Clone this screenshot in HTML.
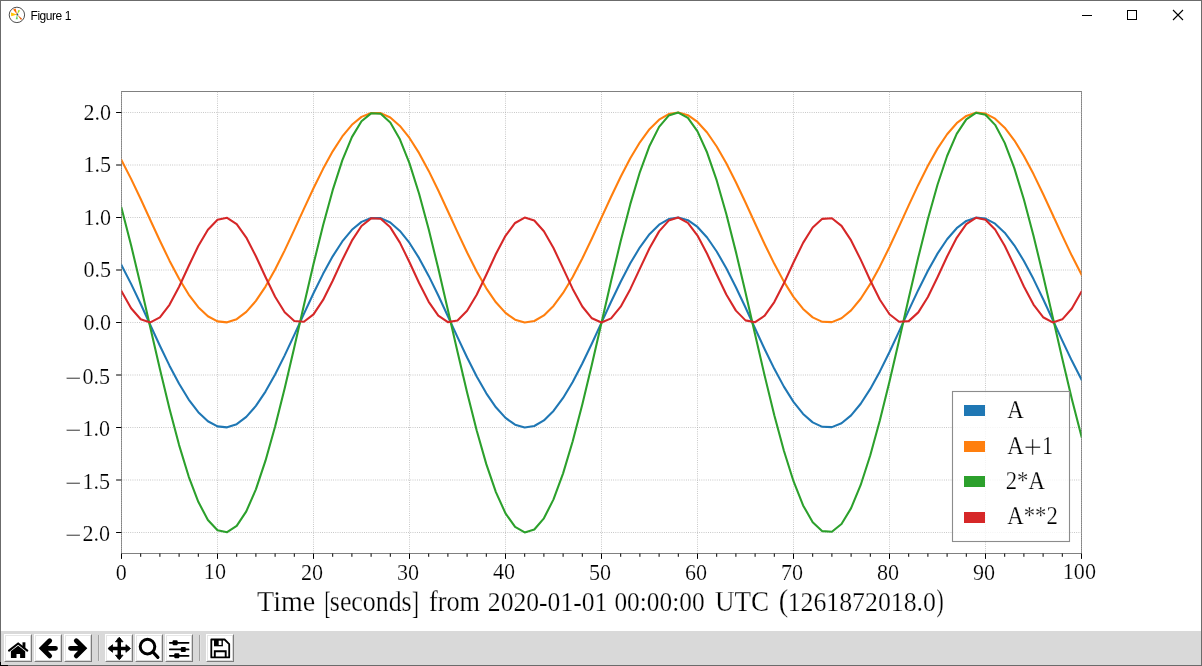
<!DOCTYPE html>
<html><head><meta charset="utf-8"><title>Figure 1</title>
<style>
html,body{margin:0;padding:0;background:#fff;overflow:hidden}
#w{position:absolute;left:0;top:0;width:1202px;height:666px;background:#fff;overflow:hidden}
#bd{position:absolute;left:0;top:0;width:1200px;height:664px;border:1px solid #6b6b6b;pointer-events:none;z-index:9}
#tt{position:absolute;left:30.5px;top:9px;font:12px/15px "Liberation Sans",sans-serif;color:#000;letter-spacing:-0.45px;white-space:nowrap}
#tb{position:absolute;left:1px;top:631px;width:1200px;height:34px;background:#d9d9d9}
.b{position:absolute;top:634px;width:28px;height:28px;background:#fff}
.b i{position:absolute;display:block;box-sizing:border-box}
.b .r1{left:0;top:0;width:28px;height:28px;border:1px solid;border-color:#fff #7c7c7c #7c7c7c #fff}
.b .r2{left:1px;top:1px;width:26px;height:26px;border:1px solid;border-color:#e6e6e6 #d8d8d8 #d8d8d8 #e6e6e6}
.sp{position:absolute;top:635px;width:1px;height:26px;background:#a3a3a3;border-right:1px solid #e2e2e2}
</style></head><body><div id="w">
<div id="tt">Figure 1</div>
<svg width="20" height="20" viewBox="0 0 20 20" style="position:absolute;left:7px;top:5px">
<circle cx="9.9" cy="9.9" r="7.7" fill="#fff" stroke="#3a3a3a" stroke-width="0.9"/>
<path d="M10.1 9.6L6.1 4.6L8.6 3.5Z" fill="#ff6a00"/>
<path d="M10.1 9.6L4 7.6L4.2 11.2Z" fill="#ffc400"/>
<path d="M10.1 9.6L11.3 5L13.2 5.5Z" fill="#a6d82a"/>
<path d="M10.1 9.6L8.7 14.2L10.8 14.3Z" fill="#5fd35f"/>
<path d="M10.1 9.6L14 14.9L15.1 13.8Z" fill="#e8600a"/>
<circle cx="10.4" cy="9.5" r="0.9" fill="#2b4a7a"/>
</svg>
<svg width="120" height="30" viewBox="1080 0 120 30" style="position:absolute;left:1080px;top:0">
<path d="M1082 15.5h10" stroke="#000" stroke-width="1" fill="none"/>
<rect x="1127.5" y="10.5" width="9" height="9" fill="none" stroke="#000" stroke-width="1"/>
<path d="M1173 10l10 10M1183 10l-10 10" stroke="#000" stroke-width="1.1" fill="none"/>
</svg>
<svg width="1200" height="600" viewBox="1 31 1200 600" style="position:absolute;left:1px;top:31px">
<defs><clipPath id="ax"><rect x="121.5" y="91.5" width="960" height="462"/></clipPath></defs>
<rect x="121.5" y="91.5" width="960" height="462" fill="none" stroke="#808080" stroke-width="1"/>
<g stroke="#b0b0b0" stroke-width="0.83" stroke-dasharray="0.83 1.375" fill="none"><line x1="121.50" y1="553.5" x2="121.50" y2="91.5"/><line x1="217.50" y1="553.5" x2="217.50" y2="91.5"/><line x1="313.50" y1="553.5" x2="313.50" y2="91.5"/><line x1="409.50" y1="553.5" x2="409.50" y2="91.5"/><line x1="505.50" y1="553.5" x2="505.50" y2="91.5"/><line x1="601.50" y1="553.5" x2="601.50" y2="91.5"/><line x1="697.50" y1="553.5" x2="697.50" y2="91.5"/><line x1="793.50" y1="553.5" x2="793.50" y2="91.5"/><line x1="889.50" y1="553.5" x2="889.50" y2="91.5"/><line x1="985.50" y1="553.5" x2="985.50" y2="91.5"/><line x1="1081.50" y1="553.5" x2="1081.50" y2="91.5"/><line x1="121.5" y1="532.50" x2="1081.5" y2="532.50"/><line x1="121.5" y1="480.00" x2="1081.5" y2="480.00"/><line x1="121.5" y1="427.50" x2="1081.5" y2="427.50"/><line x1="121.5" y1="375.00" x2="1081.5" y2="375.00"/><line x1="121.5" y1="322.50" x2="1081.5" y2="322.50"/><line x1="121.5" y1="270.00" x2="1081.5" y2="270.00"/><line x1="121.5" y1="217.50" x2="1081.5" y2="217.50"/><line x1="121.5" y1="165.00" x2="1081.5" y2="165.00"/><line x1="121.5" y1="112.50" x2="1081.5" y2="112.50"/></g>
<g clip-path="url(#ax)" fill="none" stroke-width="2.08" stroke-linejoin="round" stroke-linecap="square">
<polyline stroke="#1f77b4" points="121.50,265.26 131.10,283.89 140.70,304.05 150.30,324.96 159.90,345.76 169.50,365.64 179.10,383.80 188.70,399.51 198.30,412.16 207.90,421.23 217.50,426.36 227.10,427.35 236.70,424.17 246.30,416.93 255.90,405.92 265.50,391.59 275.10,374.51 284.70,355.35 294.30,334.88 303.90,313.92 313.50,293.30 323.10,273.84 332.70,256.33 342.30,241.45 351.90,229.80 361.50,221.85 371.10,217.92 380.70,218.15 390.30,222.54 399.90,230.91 409.50,242.94 419.10,258.14 428.70,275.91 438.30,295.53 447.90,316.23 457.50,337.18 467.10,357.54 476.70,376.50 486.30,393.32 495.90,407.31 505.50,417.92 515.10,424.72 524.70,427.45 534.30,426.00 543.90,420.42 553.50,410.93 563.10,397.92 572.70,381.91 582.30,363.52 591.90,343.50 601.50,322.64 611.10,301.78 620.70,281.74 630.30,263.33 639.90,247.28 649.50,234.22 659.10,224.69 668.70,219.05 678.30,217.54 687.90,220.21 697.50,226.96 707.10,237.52 716.70,251.47 726.30,268.25 735.90,287.19 745.50,307.54 755.10,328.49 764.70,349.19 774.30,368.84 783.90,386.63 793.50,401.87 803.10,413.94 812.70,422.37 822.30,426.82 831.90,427.11 841.50,423.23 851.10,415.33 860.70,403.73 870.30,388.89 879.90,371.41 889.50,351.98 899.10,331.37 908.70,310.41 918.30,289.92 927.90,270.74 937.50,253.62 947.10,239.25 956.70,228.20 966.30,220.90 975.90,217.66 985.50,218.60 995.10,223.67 1004.70,232.69 1014.30,245.29 1023.90,260.97 1033.50,279.10 1043.10,298.96 1052.70,319.75 1062.30,340.66 1071.90,360.85 1081.50,379.50"/>
<polyline stroke="#ff7f0e" points="121.50,160.26 131.10,178.89 140.70,199.05 150.30,219.96 159.90,240.76 169.50,260.64 179.10,278.80 188.70,294.51 198.30,307.16 207.90,316.23 217.50,321.36 227.10,322.35 236.70,319.17 246.30,311.93 255.90,300.92 265.50,286.59 275.10,269.51 284.70,250.35 294.30,229.88 303.90,208.92 313.50,188.30 323.10,168.84 332.70,151.33 342.30,136.45 351.90,124.80 361.50,116.85 371.10,112.92 380.70,113.15 390.30,117.54 399.90,125.91 409.50,137.94 419.10,153.14 428.70,170.91 438.30,190.53 447.90,211.23 457.50,232.18 467.10,252.54 476.70,271.50 486.30,288.32 495.90,302.31 505.50,312.92 515.10,319.72 524.70,322.45 534.30,321.00 543.90,315.42 553.50,305.93 563.10,292.92 572.70,276.91 582.30,258.52 591.90,238.50 601.50,217.64 611.10,196.78 620.70,176.74 630.30,158.33 639.90,142.28 649.50,129.22 659.10,119.69 668.70,114.05 678.30,112.54 687.90,115.21 697.50,121.96 707.10,132.52 716.70,146.47 726.30,163.25 735.90,182.19 745.50,202.54 755.10,223.49 764.70,244.19 774.30,263.84 783.90,281.63 793.50,296.87 803.10,308.94 812.70,317.37 822.30,321.82 831.90,322.11 841.50,318.23 851.10,310.33 860.70,298.73 870.30,283.89 879.90,266.41 889.50,246.98 899.10,226.37 908.70,205.41 918.30,184.92 927.90,165.74 937.50,148.62 947.10,134.25 956.70,123.20 966.30,115.90 975.90,112.66 985.50,113.60 995.10,118.67 1004.70,127.69 1014.30,140.29 1023.90,155.97 1033.50,174.10 1043.10,193.96 1052.70,214.75 1062.30,235.66 1071.90,255.85 1081.50,274.50"/>
<polyline stroke="#2ca02c" points="121.50,208.01 131.10,245.27 140.70,285.61 150.30,327.42 159.90,369.03 169.50,408.78 179.10,445.10 188.70,476.53 198.30,501.82 207.90,519.96 217.50,530.22 227.10,532.21 236.70,525.84 246.30,511.35 255.90,489.35 265.50,460.68 275.10,426.51 284.70,388.20 294.30,347.26 303.90,305.34 313.50,264.10 323.10,225.19 332.70,190.16 342.30,160.40 351.90,137.11 361.50,121.21 371.10,113.33 380.70,113.79 390.30,122.58 399.90,139.33 409.50,163.38 419.10,193.78 428.70,229.31 438.30,268.56 447.90,309.95 457.50,351.85 467.10,392.58 476.70,430.51 486.30,464.13 495.90,492.11 505.50,513.33 515.10,526.94 524.70,532.40 534.30,529.49 543.90,518.33 553.50,499.36 563.10,473.35 572.70,441.31 582.30,404.54 591.90,364.50 601.50,322.79 611.10,281.06 620.70,240.99 630.30,204.16 639.90,172.06 649.50,145.95 659.10,126.88 668.70,115.60 678.30,112.58 687.90,117.93 697.50,131.43 707.10,152.55 716.70,180.44 726.30,214.00 735.90,251.88 745.50,292.58 755.10,334.47 764.70,375.89 774.30,415.17 783.90,450.76 793.50,481.24 803.10,505.39 812.70,522.25 822.30,531.14 831.90,531.72 841.50,523.96 851.10,508.16 860.70,484.96 870.30,455.29 879.90,420.32 889.50,381.45 899.10,340.24 908.70,298.31 918.30,257.35 927.90,218.99 937.50,184.75 947.10,156.01 956.70,133.90 966.30,119.31 975.90,112.82 985.50,114.69 995.10,124.85 1004.70,142.88 1014.30,168.08 1023.90,199.43 1033.50,235.69 1043.10,275.41 1052.70,317.01 1062.30,358.83 1071.90,399.19 1081.50,436.50"/>
<polyline stroke="#d62728" points="121.50,291.29 131.10,308.30 140.70,319.26 150.30,322.44 159.90,317.35 169.50,304.77 179.10,286.71 188.70,266.01 198.30,245.94 207.90,229.67 217.50,219.76 227.10,217.79 236.70,224.06 246.30,237.58 255.90,256.22 265.50,277.04 275.10,296.74 284.70,312.22 294.30,321.04 303.90,321.80 313.50,314.38 323.10,299.95 332.70,280.80 342.30,259.94 351.90,240.67 361.50,226.03 371.10,218.33 380.70,218.79 390.30,227.33 399.90,242.61 409.50,262.22 419.10,283.05 428.70,301.82 438.30,315.57 447.90,322.13 457.50,320.45 467.10,310.81 476.70,294.72 486.30,274.74 495.90,254.00 505.50,235.79 515.10,222.98 524.70,217.60 534.30,220.49 543.90,231.19 553.50,248.02 563.10,268.32 572.70,288.89 582.30,306.47 591.90,318.30 601.50,322.50 611.10,318.41 620.70,306.68 630.30,289.16 639.90,268.61 649.50,248.28 659.10,231.38 668.70,220.58 678.30,217.58 687.90,222.86 697.50,235.57 707.10,253.73 716.70,274.45 726.30,294.47 735.90,310.63 745.50,320.37 755.10,322.16 764.70,315.71 774.30,302.05 783.90,283.33 793.50,262.50 803.10,242.86 812.70,227.50 822.30,218.85 831.90,218.28 841.50,225.87 851.10,240.43 860.70,259.66 870.30,280.52 879.90,299.72 889.50,314.22 899.10,321.75 908.70,321.11 918.30,312.39 927.90,296.99 937.50,277.32 947.10,256.50 956.70,237.81 966.30,224.20 975.90,217.82 985.50,219.68 995.10,229.49 1004.70,245.69 1014.30,265.73 1023.90,286.44 1033.50,304.56 1043.10,317.22 1052.70,322.43 1062.30,319.36 1071.90,308.50 1081.50,291.56"/>
</g>
<path d="M121.50 553.5v5.4M217.50 553.5v5.4M313.50 553.5v5.4M409.50 553.5v5.4M505.50 553.5v5.4M601.50 553.5v5.4M697.50 553.5v5.4M793.50 553.5v5.4M889.50 553.5v5.4M985.50 553.5v5.4M1081.50 553.5v5.4M140.70 553.5v3.3M159.90 553.5v3.3M179.10 553.5v3.3M198.30 553.5v3.3M236.70 553.5v3.3M255.90 553.5v3.3M275.10 553.5v3.3M294.30 553.5v3.3M332.70 553.5v3.3M351.90 553.5v3.3M371.10 553.5v3.3M390.30 553.5v3.3M428.70 553.5v3.3M447.90 553.5v3.3M467.10 553.5v3.3M486.30 553.5v3.3M524.70 553.5v3.3M543.90 553.5v3.3M563.10 553.5v3.3M582.30 553.5v3.3M620.70 553.5v3.3M639.90 553.5v3.3M659.10 553.5v3.3M678.30 553.5v3.3M716.70 553.5v3.3M735.90 553.5v3.3M755.10 553.5v3.3M774.30 553.5v3.3M812.70 553.5v3.3M831.90 553.5v3.3M851.10 553.5v3.3M870.30 553.5v3.3M908.70 553.5v3.3M927.90 553.5v3.3M947.10 553.5v3.3M966.30 553.5v3.3M1004.70 553.5v3.3M1023.90 553.5v3.3M1043.10 553.5v3.3M1062.30 553.5v3.3M121.5 532.50h-5.4M121.5 480.00h-5.4M121.5 427.50h-5.4M121.5 375.00h-5.4M121.5 322.50h-5.4M121.5 270.00h-5.4M121.5 217.50h-5.4M121.5 165.00h-5.4M121.5 112.50h-5.4" stroke="#000" stroke-width="1" fill="none"/>
<g font-family="'Liberation Serif', serif" font-size="24px" fill="#000" stroke="#fff" stroke-width="0.2" paint-order="fill stroke">
<text x="115.78" y="580.0" textLength="11.04" lengthAdjust="spacingAndGlyphs">0</text>
<text x="203.86" y="579.0" textLength="22.08" lengthAdjust="spacingAndGlyphs">10</text>
<text x="300.96" y="580.0" textLength="22.08" lengthAdjust="spacingAndGlyphs">20</text>
<text x="396.96" y="580.0" textLength="22.08" lengthAdjust="spacingAndGlyphs">30</text>
<text x="492.96" y="579.0" textLength="22.08" lengthAdjust="spacingAndGlyphs">40</text>
<text x="588.96" y="580.0" textLength="22.08" lengthAdjust="spacingAndGlyphs">50</text>
<text x="684.96" y="580.0" textLength="22.08" lengthAdjust="spacingAndGlyphs">60</text>
<text x="780.96" y="580.0" textLength="22.08" lengthAdjust="spacingAndGlyphs">70</text>
<text x="876.96" y="580.0" textLength="22.08" lengthAdjust="spacingAndGlyphs">80</text>
<text x="972.96" y="580.0" textLength="22.08" lengthAdjust="spacingAndGlyphs">90</text>
<text x="1062.84" y="579.0" textLength="33.12" lengthAdjust="spacingAndGlyphs">100</text>
<text x="82.40" y="541.00" textLength="27.60" lengthAdjust="spacingAndGlyphs">2.0</text>
<text x="65.36" y="543.40" textLength="16.36" lengthAdjust="spacingAndGlyphs">−</text>
<text x="82.40" y="488.50" textLength="27.60" lengthAdjust="spacingAndGlyphs">1.5</text>
<text x="65.36" y="490.90" textLength="16.36" lengthAdjust="spacingAndGlyphs">−</text>
<text x="82.40" y="436.00" textLength="27.60" lengthAdjust="spacingAndGlyphs">1.0</text>
<text x="65.36" y="438.40" textLength="16.36" lengthAdjust="spacingAndGlyphs">−</text>
<text x="82.40" y="383.50" textLength="27.60" lengthAdjust="spacingAndGlyphs">0.5</text>
<text x="65.36" y="385.90" textLength="16.36" lengthAdjust="spacingAndGlyphs">−</text>
<text x="83.50" y="329.90" textLength="27.60" lengthAdjust="spacingAndGlyphs">0.0</text>
<text x="83.50" y="277.40" textLength="27.60" lengthAdjust="spacingAndGlyphs">0.5</text>
<text x="83.50" y="224.90" textLength="27.60" lengthAdjust="spacingAndGlyphs">1.0</text>
<text x="83.50" y="172.40" textLength="27.60" lengthAdjust="spacingAndGlyphs">1.5</text>
<text x="83.50" y="119.90" textLength="27.60" lengthAdjust="spacingAndGlyphs">2.0</text>
</g>
<g font-family="'Liberation Serif', serif" font-size="29px" fill="#000" stroke="#fff" stroke-width="0.25" paint-order="fill stroke">
<text x="257.10" y="611.10" textLength="58.15" lengthAdjust="spacingAndGlyphs">Time</text>
<text font-size="32.6px" x="324.57" y="613.60" textLength="5.98" lengthAdjust="spacingAndGlyphs">[</text>
<text x="329.84" y="611.10" textLength="81.79" lengthAdjust="spacingAndGlyphs">seconds</text>
<text font-size="32.6px" x="411.95" y="613.60" textLength="6.88" lengthAdjust="spacingAndGlyphs">]</text>
<text x="428.89" y="611.10" textLength="51.12" lengthAdjust="spacingAndGlyphs">from</text>
<text font-size="27.3px" x="487.87" y="611.10" textLength="119.46" lengthAdjust="spacingAndGlyphs">2020-01-01</text>
<text font-size="27.3px" x="614.43" y="611.10" textLength="90.13" lengthAdjust="spacingAndGlyphs">00:00:00</text>
<text x="715.03" y="611.10" textLength="54.06" lengthAdjust="spacingAndGlyphs">UTC</text>
<text font-size="30.8px" x="778.85" y="611.00" textLength="9.47" lengthAdjust="spacingAndGlyphs">(</text>
<text font-size="27.3px" x="787.63" y="611.10" textLength="148.35" lengthAdjust="spacingAndGlyphs">1261872018.0</text>
<text font-size="30.8px" x="936.41" y="611.00" textLength="7.13" lengthAdjust="spacingAndGlyphs">)</text>
</g>
<rect x="952.5" y="391.5" width="117" height="150" fill="#fff" fill-opacity="0.8" stroke="#8c8c8c" stroke-width="1.11"/>
<g font-family="'Liberation Serif', serif" font-size="25.6px" fill="#000" stroke="#fff" stroke-width="0.25" paint-order="fill stroke">
<rect x="964" y="405" width="21" height="11" fill="#1f77b4" stroke="none"/>
<text x="1007.28" y="417.90" textLength="16.49" lengthAdjust="spacingAndGlyphs">A</text>
<rect x="964" y="441" width="21" height="11" fill="#ff7f0e" stroke="none"/>
<text x="1007.28" y="454.20" textLength="16.49" lengthAdjust="spacingAndGlyphs">A</text>
<text font-size="32.7px" stroke-width="0.6" x="1023.57" y="458.30" textLength="18.42" lengthAdjust="spacingAndGlyphs">+</text>
<text x="1042.03" y="454.20" textLength="11.22" lengthAdjust="spacingAndGlyphs">1</text>
<rect x="964" y="476" width="21" height="11" fill="#2ca02c" stroke="none"/>
<text x="1005.70" y="489.10" textLength="39.17" lengthAdjust="spacingAndGlyphs">2*A</text>
<rect x="964" y="512" width="21" height="11" fill="#d62728" stroke="none"/>
<text x="1007.28" y="524.20" textLength="50.48" lengthAdjust="spacingAndGlyphs">A**2</text>
</g>
</svg>
<div id="tb"></div>
<div class="b" style="left:4px"><i class="r1"></i><i class="r2"></i><svg width="28" height="28" viewBox="0 0 28 28" style="position:absolute;left:0;top:0"><path d="M5.0 16.6L14.15 9.5L23.3 16.6" fill="none" stroke="#000" stroke-width="2.0" stroke-linecap="round" stroke-linejoin="miter"/><path d="M18.5 8.3h2.9v6h-2.9z" fill="#000"/><path d="M14.15 11.7L21.2 17.3v6.3a.5.5 0 0 1-.5.5H16.1v-4.1h-3.6v4.1H7.4a.5.5 0 0 1-.5-.5V17.3z" fill="#000"/></svg></div><div class="b" style="left:34px"><i class="r1"></i><i class="r2"></i><svg width="28" height="28" viewBox="0 0 28 28" style="position:absolute;left:0;top:0"><path d="M21.5 14.3H8.1M15.7 6.7L8.1 14.3L15.7 21.9" fill="none" stroke="#000" stroke-width="4.8" stroke-linecap="round" stroke-linejoin="miter"/></svg></div><div class="b" style="left:64px"><i class="r1"></i><i class="r2"></i><svg width="28" height="28" viewBox="0 0 28 28" style="position:absolute;left:0;top:0"><path d="M6.5 14.3H19.9M12.3 6.7L19.9 14.3L12.3 21.9" fill="none" stroke="#000" stroke-width="4.8" stroke-linecap="round" stroke-linejoin="miter"/></svg></div><div class="sp" style="left:98px"></div><div class="b" style="left:105px"><i class="r1"></i><i class="r2"></i><svg width="28" height="28" viewBox="0 0 28 28" style="position:absolute;left:0;top:0"><path d="M14.25 4.5V24.5M4.3 14.5H24.2" stroke="#000" stroke-width="3.5" fill="none"/><path d="M14.25 3.2l3.8 4.6h-7.6zM14.25 25.8l3.8-4.6h-7.6zM2.95 14.5l4.6-3.8v7.6zM25.55 14.5l-4.6-3.8v7.6z" fill="#000" stroke="#000" stroke-width="0.8" stroke-linejoin="round"/></svg></div><div class="b" style="left:135px"><i class="r1"></i><i class="r2"></i><svg width="28" height="28" viewBox="0 0 28 28" style="position:absolute;left:0;top:0"><circle cx="12.5" cy="12.6" r="7.3" fill="none" stroke="#000" stroke-width="3"/><path d="M17.9 18L22.9 23.4" stroke="#000" stroke-width="3.2" stroke-linecap="round" fill="none"/></svg></div><div class="b" style="left:165px"><i class="r1"></i><i class="r2"></i><svg width="28" height="28" viewBox="0 0 28 28" style="position:absolute;left:0;top:0"><path d="M4.8 8.8H23.6M4.8 15.4H23.6M4.8 21.8H23.6" stroke="#000" stroke-width="1.7" stroke-linecap="round" fill="none"/><rect x="7.6" y="6.3" width="5" height="5" rx="1" fill="#000"/><rect x="15.8" y="12.9" width="5" height="5" rx="1" fill="#000"/><rect x="9.3" y="19.3" width="5" height="5" rx="1" fill="#000"/></svg></div><div class="sp" style="left:199px"></div><div class="b" style="left:206px"><i class="r1"></i><i class="r2"></i><svg width="28" height="28" viewBox="0 0 28 28" style="position:absolute;left:0;top:0"><path d="M5.3 5.5H18.6L23.2 10.2V23.4H5.3Z" fill="#fff" stroke="#000" stroke-width="1.8" stroke-linejoin="round"/><path d="M8 5.5h8.9v6.8H8z" fill="#000"/><rect x="12.7" y="6.7" width="2.8" height="4.3" fill="#fff"/><path d="M8.8 23.4V17.2H19.7V23.4" fill="none" stroke="#000" stroke-width="1.9"/></svg></div>
<div id="bd"></div>
<div style="position:absolute;left:0;top:662px;width:1px;height:4px;background:#000;z-index:10"></div><div style="position:absolute;left:0;top:665px;width:8px;height:1px;background:#000;z-index:10"></div>
</div></body></html>
